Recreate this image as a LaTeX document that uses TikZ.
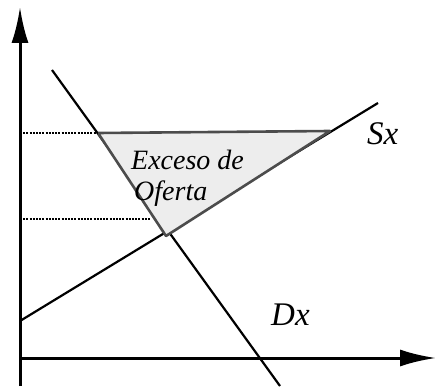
\documentclass[tikz,border=0pt]{standalone}
\usepackage{fontspec}
\setmainfont{Liberation Serif}
\usetikzlibrary{arrows.meta}
\begin{document}
\begin{tikzpicture}[x=1pt, y=-1pt, every node/.style={font=\fontsize{28}{31}\selectfont\itshape, inner sep=0pt}]
  \tikzstyle{axis}=[line width=3pt, -{Latex[length=36pt, width=17pt]}]
  \tikzstyle{curve}=[line width=2.2pt]
  \tikzstyle{guide}=[line width=1.6pt, dash pattern=on 2pt off 1.2pt]
  \tikzstyle{big}=[font=\fontsize{33}{36}\selectfont\itshape]
  \useasboundingbox (0, 0) rectangle (436, 387);
  % axes
  \coordinate (o) at (20, 358);
  \coordinate (ybot) at (20, 386); \coordinate (ytop) at (20, 7);
  \coordinate (xend) at (436, 358);
  % supply and demand ends
  \coordinate (s0) at (20, 321); \coordinate (s1) at (378, 103);
  \coordinate (d0) at (52, 70);  \coordinate (d1) at (280, 386);
  % excess triangle
  \coordinate (tl) at (98, 133); \coordinate (tr) at (330, 131);
  \coordinate (tb) at (166, 236);
  \coordinate (ya) at (20, 133); \coordinate (yb) at (20, 219);
  \coordinate (pb) at (151, 219);
  \draw[curve] (s0) -- (s1);
  \draw[curve] (d0) -- (d1);
  \filldraw[fill=gray!14, draw=black!70, line width=2.6pt, line join=round] (tl) -- (tr) -- (tb) -- cycle;
  \draw[guide] (ya) -- (tl);
  \draw[guide] (yb) -- (pb);
  \draw[axis] (ybot) -- (ytop);
  \draw[axis] (o) -- (xend);
  \node[anchor=base west] (exc) at (131, 170) {Exceso de};
  \node[anchor=base west] (ofe) at (134, 201) {Oferta};
  \node[big, anchor=base west] (sx) at (367, 145) {Sx};
  \node[big, anchor=base west] (dx) at (271, 325) {Dx};
\end{tikzpicture}
\end{document}
